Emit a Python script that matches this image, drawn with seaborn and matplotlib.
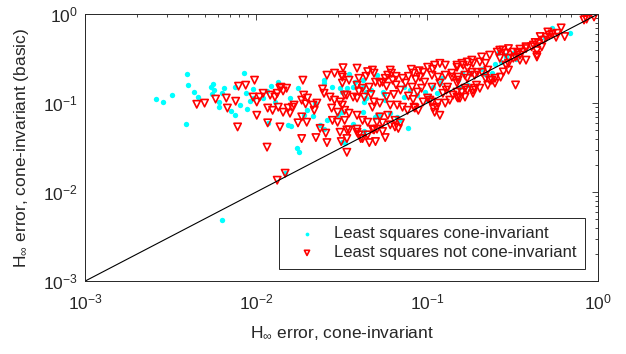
import numpy as np
import pandas as pd
import matplotlib
matplotlib.use("Agg")
import matplotlib.pyplot as plt
import seaborn as sns

# (x, y) = (H-inf error cone-invariant, H-inf error cone-invariant basic)
ls_cone_inv = [
    (0.0026, 0.111), (0.00285, 0.103), (0.00323, 0.123), (0.00394, 0.212), (0.0040, 0.159),
    (0.00436, 0.133), (0.0046, 0.117), (0.0039, 0.058), (0.00546, 0.151), (0.00563, 0.164),
    (0.0057, 0.140), (0.0055, 0.126), (0.0061, 0.103), (0.0061, 0.090), (0.0065, 0.147),
    (0.0063, 0.129), (0.0071, 0.081), (0.0075, 0.073), (0.0085, 0.217), (0.0075, 0.151),
    (0.0081, 0.095), (0.0087, 0.129), (0.0089, 0.085), (0.0096, 0.144), (0.0096, 0.114),
    (0.0092, 0.105), (0.0063, 0.0049),
    (0.0135, 0.172), (0.0175, 0.148), (0.0123, 0.155), (0.0116, 0.137), (0.0117, 0.0595),
    (0.0154, 0.057), (0.016, 0.055), (0.019, 0.073), (0.0215, 0.071), (0.020, 0.083),
    (0.025, 0.181), (0.025, 0.168), (0.028, 0.151), (0.0237, 0.057), (0.026, 0.064),
    (0.0173, 0.031), (0.0178, 0.028), (0.030, 0.073), (0.032, 0.079), (0.031, 0.147),
    (0.011, 0.114), (0.0129, 0.103), (0.0158, 0.114), (0.022, 0.100), (0.0148, 0.0166),
    (0.035, 0.212), (0.038, 0.172), (0.042, 0.181), (0.042, 0.151), (0.051, 0.206),
    (0.037, 0.151), (0.034, 0.147), (0.032, 0.133), (0.044, 0.133), (0.047, 0.140),
    (0.055, 0.133), (0.056, 0.128), (0.057, 0.108), (0.044, 0.114), (0.043, 0.103),
    (0.042, 0.079), (0.051, 0.073), (0.053, 0.073), (0.050, 0.070), (0.037, 0.058),
    (0.033, 0.036), (0.032, 0.037), (0.077, 0.052), (0.070, 0.064), (0.073, 0.117),
    (0.080, 0.140), (0.088, 0.123), (0.097, 0.133), (0.100, 0.108), (0.061, 0.077),
    (0.067, 0.070), (0.043, 0.048), (0.025, 0.051), (0.073, 0.151), (0.122, 0.190),
    (0.26, 0.364), (0.29, 0.346), (0.27, 0.29), (0.25, 0.275), (0.21, 0.24),
    (0.178, 0.22), (0.173, 0.159), (0.16, 0.22), (0.22, 0.21), (0.119, 0.167),
    (0.108, 0.151), (0.114, 0.129), (0.104, 0.118), (0.156, 0.151), (0.152, 0.181),
    (0.54, 0.70), (0.686, 0.61), (0.49, 0.54), (0.33, 0.31), (0.32, 0.364),
    (0.29, 0.33), (0.24, 0.22),
]

ls_not_cone_inv = [
    (0.0045, 0.097), (0.0050, 0.100), (0.0058, 0.111), (0.0067, 0.114), (0.0068, 0.088),
    (0.0078, 0.054), (0.0079, 0.155), (0.0087, 0.159), (0.0098, 0.181), (0.0076, 0.105),
    (0.0096, 0.117), (0.0101, 0.073), (0.0101, 0.103),
    (0.0116, 0.032), (0.0148, 0.0163), (0.0133, 0.0136), (0.0188, 0.181), (0.0117, 0.060),
    (0.0138, 0.054), (0.0185, 0.040), (0.0176, 0.060), (0.0224, 0.041), (0.0198, 0.061),
    (0.0129, 0.117), (0.0135, 0.090), (0.0125, 0.083), (0.0105, 0.117), (0.011, 0.129),
    (0.0121, 0.123), (0.0138, 0.147), (0.0151, 0.147), (0.0163, 0.090), (0.0158, 0.077),
    (0.0185, 0.108), (0.020, 0.114), (0.0215, 0.095), (0.014, 0.151), (0.0144, 0.137),
    (0.0133, 0.129), (0.0117, 0.088), (0.0154, 0.088), (0.0167, 0.095), (0.0144, 0.079),
    (0.0185, 0.070), (0.0245, 0.144), (0.025, 0.129), (0.0227, 0.100), (0.0195, 0.098),
    (0.0219, 0.083), (0.019, 0.123), (0.0288, 0.217), (0.0318, 0.206), (0.0323, 0.25),
    (0.0271, 0.117), (0.0288, 0.108), (0.031, 0.103), (0.0277, 0.088), (0.030, 0.079),
    (0.0237, 0.052), (0.0256, 0.046), (0.030, 0.061), (0.028, 0.064), (0.026, 0.036),
    (0.0315, 0.037), (0.033, 0.064), (0.033, 0.123),
    (0.048, 0.235), (0.049, 0.217), (0.061, 0.235), (0.062, 0.217), (0.059, 0.206),
    (0.081, 0.24), (0.083, 0.217), (0.095, 0.222), (0.091, 0.196), (0.032, 0.196),
    (0.035, 0.181), (0.032, 0.168), (0.039, 0.159), (0.042, 0.147), (0.046, 0.151),
    (0.050, 0.172), (0.053, 0.168), (0.055, 0.172), (0.063, 0.181), (0.072, 0.190),
    (0.075, 0.168), (0.082, 0.151), (0.088, 0.133), (0.093, 0.147), (0.034, 0.123),
    (0.037, 0.117), (0.039, 0.114), (0.043, 0.117), (0.049, 0.103), (0.053, 0.100),
    (0.048, 0.090), (0.061, 0.095), (0.067, 0.095), (0.072, 0.090), (0.077, 0.083),
    (0.085, 0.088), (0.095, 0.103), (0.101, 0.114), (0.032, 0.095), (0.033, 0.083),
    (0.035, 0.077), (0.039, 0.073), (0.042, 0.064), (0.045, 0.061), (0.051, 0.061),
    (0.055, 0.060), (0.061, 0.057), (0.034, 0.050), (0.039, 0.047), (0.045, 0.044),
    (0.049, 0.050), (0.055, 0.048), (0.034, 0.040), (0.041, 0.040), (0.057, 0.041),
    (0.046, 0.036), (0.034, 0.028), (0.031, 0.047),
    (0.040, 0.190), (0.044, 0.200), (0.057, 0.190), (0.066, 0.200), (0.078, 0.200),
    (0.086, 0.185), (0.058, 0.155), (0.066, 0.160), (0.070, 0.140), (0.064, 0.125),
    (0.078, 0.120), (0.083, 0.110), (0.058, 0.118), (0.047, 0.125), (0.040, 0.135),
    (0.101, 0.253), (0.111, 0.267), (0.119, 0.28), (0.128, 0.267), (0.15, 0.267),
    (0.16, 0.28), (0.172, 0.29), (0.183, 0.304), (0.209, 0.33), (0.233, 0.346),
    (0.258, 0.374), (0.278, 0.394), (0.30, 0.41), (0.107, 0.206), (0.116, 0.196),
    (0.128, 0.206), (0.14, 0.217), (0.152, 0.196), (0.167, 0.206), (0.183, 0.222),
    (0.197, 0.222), (0.097, 0.172), (0.107, 0.151), (0.119, 0.168), (0.132, 0.151),
    (0.15, 0.168), (0.124, 0.129), (0.142, 0.123), (0.16, 0.133), (0.186, 0.14),
    (0.107, 0.103), (0.116, 0.100), (0.128, 0.100), (0.152, 0.114), (0.167, 0.117),
    (0.109, 0.088), (0.119, 0.073), (0.111, 0.079), (0.19, 0.147), (0.233, 0.181),
    (0.25, 0.19), (0.27, 0.196), (0.30, 0.235), (0.33, 0.16), (0.22, 0.19),
    (0.227, 0.159), (0.25, 0.168),
    (0.86, 0.88), (0.95, 0.93), (0.61, 0.70), (0.58, 0.61), (0.57, 0.55),
    (0.51, 0.63), (0.54, 0.60), (0.50, 0.55), (0.48, 0.51), (0.45, 0.47),
    (0.43, 0.48), (0.47, 0.43), (0.44, 0.39), (0.41, 0.43), (0.38, 0.41),
    (0.36, 0.374), (0.35, 0.346), (0.34, 0.364), (0.33, 0.33), (0.30, 0.32),
    (0.44, 0.33), (0.38, 0.304), (0.35, 0.304), (0.83, 0.86), (0.52, 0.58),
    (0.64, 0.56), (0.46, 0.56), (0.267, 0.394), (0.29, 0.364), (0.32, 0.374),
    (0.35, 0.404), (0.38, 0.43), (0.42, 0.449), (0.267, 0.32), (0.29, 0.267),
    (0.32, 0.32), (0.44, 0.346), (0.28, 0.224), (0.30, 0.28),
    (0.039, 0.247), (0.090, 0.231), (0.108, 0.24), (0.026, 0.206), (0.045, 0.226),
    (0.053, 0.070), (0.059, 0.073), (0.065, 0.064), (0.070, 0.060), (0.084, 0.090),
    (0.089, 0.083), (0.104, 0.108), (0.114, 0.090), (0.136, 0.108), (0.150, 0.117),
    (0.156, 0.114), (0.172, 0.140), (0.186, 0.129), (0.204, 0.147), (0.24, 0.181),
    (0.035, 0.050), (0.039, 0.051), (0.040, 0.044), (0.042, 0.040), (0.050, 0.037),
    (0.048, 0.051), (0.051, 0.051), (0.068, 0.052), (0.065, 0.054),
    (0.15, 0.253), (0.163, 0.267), (0.173, 0.247), (0.186, 0.28), (0.204, 0.29),
    (0.22, 0.28), (0.14, 0.196), (0.152, 0.181), (0.172, 0.19), (0.19, 0.206),
    (0.21, 0.222), (0.227, 0.235), (0.13, 0.14), (0.15, 0.133), (0.167, 0.147),
    (0.195, 0.159),
]

axis_range = [1e-3, 1]

df_ci = pd.DataFrame(ls_cone_inv, columns=["err", "err_basic"])
df_nci = pd.DataFrame(ls_not_cone_inv, columns=["err", "err_basic"])

sns.set_style("white")
plt.rcParams["font.family"] = ["Liberation Sans", "DejaVu Sans"]
plt.rcParams["mathtext.fontset"] = "custom"
plt.rcParams["mathtext.rm"] = "Liberation Sans"
plt.rcParams["mathtext.it"] = "Liberation Sans:italic"
plt.rcParams["axes.unicode_minus"] = False

fig = plt.figure(figsize=(6.26, 3.54), dpi=100)
ax = fig.add_axes([0.136, 0.206, 0.819, 0.754])

dark = "#262626"

sns.scatterplot(data=df_ci, x="err", y="err_basic", ax=ax, color="cyan",
                marker="o", s=15, linewidth=0, label="Least squares cone-invariant")
sns.scatterplot(data=df_nci, x="err", y="err_basic", ax=ax, color="red",
                marker="v", s=28, facecolor="none", edgecolor="red", linewidth=1.2,
                label="Least squares not cone-invariant")
ax.plot(axis_range, axis_range, color="black", lw=0.8)

ax.set_xscale("log")
ax.set_yscale("log")
ax.set_xlim(axis_range)
ax.set_ylim(axis_range)

ax.set_xlabel(r"H$_\infty$ error, cone-invariant", fontsize=12.5, color=dark, labelpad=9)
ax.set_ylabel(r"H$_\infty$ error, cone-invariant (basic)", fontsize=12.5, color=dark, labelpad=9)

ax.tick_params(which="both", direction="in", top=True, right=True,
               labelsize=12.5, colors=dark, width=0.6)
ax.tick_params(which="major", length=4)
ax.tick_params(which="minor", length=2.2)
ax.tick_params(axis="x", which="major", pad=8)
ax.tick_params(axis="y", which="major", pad=5)
for sp in ax.spines.values():
    sp.set_color(dark)
    sp.set_linewidth(0.7)

leg = ax.legend(loc="lower right", fontsize=12, markerscale=0.7, frameon=True,
                fancybox=False, framealpha=1, edgecolor=dark, borderaxespad=0.75,
                handlelength=2.3, handletextpad=0.5, borderpad=0.5, labelspacing=0.25)
leg.get_frame().set_linewidth(0.7)

fig.savefig("out.png", dpi=100)
